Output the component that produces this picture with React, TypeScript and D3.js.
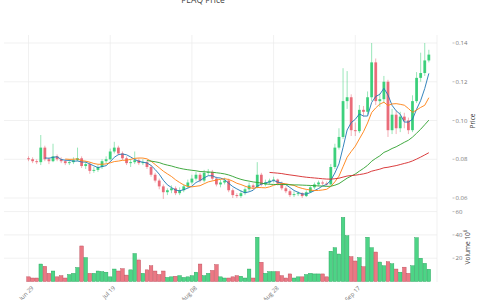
import React from 'react';
import * as d3 from 'd3';

// daily candles, Jun 29 .. Oct 05
const dates = d3.timeDay.range(new Date(2024, 5, 29), new Date(2024, 9, 6));

const opens = [
  0.0805, 0.0800, 0.0790, 0.0785, 0.0860, 0.0800, 0.0790, 0.0815, 0.0800, 0.0790,
  0.0780, 0.0785, 0.0795, 0.0805, 0.0765, 0.0775, 0.0740, 0.0745, 0.0760, 0.0790,
  0.0800, 0.0840, 0.0860, 0.0830, 0.0805, 0.0780, 0.0785, 0.0795, 0.0780, 0.0785,
  0.0760, 0.0720, 0.0690, 0.0660, 0.0630, 0.0640, 0.0650, 0.0625, 0.0640, 0.0660,
  0.0680, 0.0700, 0.0720, 0.0690, 0.0730, 0.0735, 0.0700, 0.0670, 0.0680, 0.0690,
  0.0640, 0.0615, 0.0610, 0.0625, 0.0645, 0.0665, 0.0655, 0.0720, 0.0670, 0.0680,
  0.0690, 0.0695, 0.0675, 0.0650, 0.0635, 0.0615, 0.0620, 0.0625, 0.0610, 0.0630,
  0.0655, 0.0670, 0.0680, 0.0675, 0.0670, 0.0760, 0.0860, 0.0915, 0.1100, 0.1120,
  0.0950, 0.0945, 0.1055, 0.1045, 0.1120, 0.1300, 0.1100, 0.1110, 0.1200, 0.0950,
  0.1030, 0.0960, 0.1020, 0.1000, 0.0950, 0.1100, 0.1220, 0.1245, 0.1310,
];
const closes = [
  0.0800, 0.0790, 0.0785, 0.0860, 0.0800, 0.0790, 0.0815, 0.0800, 0.0790, 0.0780,
  0.0785, 0.0795, 0.0805, 0.0765, 0.0775, 0.0740, 0.0745, 0.0760, 0.0790, 0.0800,
  0.0840, 0.0860, 0.0830, 0.0805, 0.0780, 0.0785, 0.0795, 0.0780, 0.0785, 0.0760,
  0.0720, 0.0690, 0.0660, 0.0630, 0.0640, 0.0650, 0.0625, 0.0640, 0.0660, 0.0680,
  0.0700, 0.0720, 0.0690, 0.0730, 0.0735, 0.0700, 0.0670, 0.0680, 0.0690, 0.0640,
  0.0615, 0.0610, 0.0625, 0.0645, 0.0665, 0.0655, 0.0720, 0.0670, 0.0680, 0.0690,
  0.0695, 0.0675, 0.0650, 0.0635, 0.0615, 0.0620, 0.0625, 0.0610, 0.0630, 0.0655,
  0.0670, 0.0680, 0.0675, 0.0670, 0.0760, 0.0860, 0.0915, 0.1100, 0.1120, 0.0950,
  0.0945, 0.1055, 0.1045, 0.1120, 0.1300, 0.1100, 0.1110, 0.1200, 0.0950, 0.1030,
  0.0960, 0.1020, 0.1000, 0.0950, 0.1100, 0.1220, 0.1245, 0.1310, 0.1340,
];
const highs = [
  0.0815, 0.0810, 0.0800, 0.0925, 0.0870, 0.0810, 0.0880, 0.0825, 0.0810, 0.0800,
  0.0800, 0.0810, 0.0860, 0.0815, 0.0790, 0.0785, 0.0760, 0.0770, 0.0800, 0.0815,
  0.0855, 0.0890, 0.0870, 0.0840, 0.0815, 0.0800, 0.0840, 0.0805, 0.0800, 0.0795,
  0.0770, 0.0730, 0.0700, 0.0670, 0.0650, 0.0665, 0.0660, 0.0655, 0.0670, 0.0695,
  0.0720, 0.0735, 0.0730, 0.0745, 0.0750, 0.0745, 0.0710, 0.0695, 0.0705, 0.0700,
  0.0650, 0.0625, 0.0640, 0.0655, 0.0680, 0.0675, 0.0785, 0.0730, 0.0695, 0.0700,
  0.0710, 0.0700, 0.0685, 0.0660, 0.0645, 0.0635, 0.0635, 0.0630, 0.0640, 0.0665,
  0.0680, 0.0690, 0.0690, 0.0685, 0.0775, 0.0880, 0.0960, 0.1270, 0.1255, 0.1135,
  0.0990, 0.1080, 0.1075, 0.1150, 0.1400, 0.1320, 0.1140, 0.1230, 0.1210, 0.1060,
  0.1050, 0.1045, 0.1040, 0.1015, 0.1130, 0.1250, 0.1350, 0.1400, 0.1365,
];
const lows = [
  0.0790, 0.0780, 0.0775, 0.0770, 0.0790, 0.0775, 0.0785, 0.0790, 0.0780, 0.0770,
  0.0770, 0.0775, 0.0790, 0.0755, 0.0750, 0.0725, 0.0730, 0.0735, 0.0750, 0.0780,
  0.0795, 0.0830, 0.0820, 0.0795, 0.0770, 0.0760, 0.0775, 0.0770, 0.0770, 0.0750,
  0.0710, 0.0680, 0.0645, 0.0595, 0.0615, 0.0625, 0.0615, 0.0615, 0.0630, 0.0650,
  0.0670, 0.0690, 0.0680, 0.0680, 0.0715, 0.0690, 0.0660, 0.0655, 0.0670, 0.0630,
  0.0600, 0.0600, 0.0600, 0.0615, 0.0635, 0.0645, 0.0650, 0.0660, 0.0660, 0.0670,
  0.0680, 0.0665, 0.0640, 0.0625, 0.0605, 0.0605, 0.0610, 0.0600, 0.0605, 0.0625,
  0.0645, 0.0660, 0.0665, 0.0660, 0.0665, 0.0750, 0.0850, 0.0905, 0.1060, 0.0920,
  0.0920, 0.0935, 0.1020, 0.1030, 0.1100, 0.1080, 0.1070, 0.1090, 0.0915, 0.0930,
  0.0930, 0.0940, 0.0960, 0.0930, 0.0940, 0.1090, 0.1200, 0.1230, 0.1300,
];
// volume, millions
const volumes = [
  4, 3, 3, 15, 13, 7, 9, 4, 5, 3,
  6, 7, 12, 30.5, 20.5, 7, 7, 9, 8.5, 8,
  4, 10.7, 9, 11, 5.5, 10, 24, 18.5, 7, 10,
  13.5, 9, 6, 9, 3.5, 4, 4.5, 5, 3.5, 4,
  5, 8, 15, 5, 7, 9.5, 14.5, 4, 3, 3,
  4, 5, 4.5, 3, 10.7, 3, 38, 16.5, 7, 8.5,
  8.5, 8.5, 5, 3, 6.5, 3, 4, 4, 6, 7,
  6.5, 6.5, 6.5, 4, 26, 29, 23.6, 55, 39.3, 21.3,
  17.6, 20.5, 12.7, 38, 29, 25.3, 16.7, 13.5, 17, 15.2,
  10.7, 8, 12.3, 7, 13.5, 37.6, 20, 15.6, 10.5,
];

const maWindows = [5, 10, 30, 60];
const maColors = ['#1f77b4', '#ff7f0e', '#2ca02c', '#d62728'];
const priceTicks = [0.06, 0.08, 0.1, 0.12, 0.14];
const volumeTicks = [20, 40, 60];
const dateTicks = [new Date(2024, 5, 29), new Date(2024, 6, 19), new Date(2024, 7, 8), new Date(2024, 7, 28), new Date(2024, 8, 17), new Date(2024, 9, 7)];
const labelledTicks = 5;

const UP = '#2ecc71';
const DOWN = '#e8606f';
const FONT = '"Open Sans", sans-serif';

export default function App() {
  const x = d3.scaleTime().domain([new Date(2024, 5, 23), new Date(2024, 9, 7)]).range([4, 437]);
  const yP = d3.scaleLinear().domain([0.06, 0.14]).range([198, 43]);
  const yV = d3.scaleLinear().domain([0, 60]).range([281.5, 211.6]);

  const candles = dates.map((d, i) => ({ d, o: opens[i], c: closes[i], h: highs[i], l: lows[i], v: volumes[i] }));

  // moving averages of the close
  const mas = maWindows.map((w) =>
    closes.map((_, i) => (i < w - 1 ? null : d3.mean(closes.slice(i - w + 1, i + 1)) as number))
  );
  const line = d3
    .line<number | null>()
    .defined((v) => v != null)
    .x((_, i) => x(dates[i]))
    .y((v) => yP(v as number));

  const bodyW = 2.8;
  const barW = 3.6;
  const fmt = d3.timeFormat('%b %d');

  return (
    <svg width={480} height={300} style={{ position: 'absolute', left: 0, top: 0, background: '#fff' }} fontFamily={FONT}>
      <text x={203} y={3} textAnchor="middle" fontSize={8.5} fill="#444">PEAQ Price</text>

      {/* grid */}
      {dateTicks.map((d, i) => (
        <line key={'vg' + i} x1={x(d)} x2={x(d)} y1={35} y2={282} stroke="#ebebeb" strokeWidth={0.7} />
      ))}
      {priceTicks.map((t) => (
        <line key={'pg' + t} x1={4} x2={437} y1={yP(t)} y2={yP(t)} stroke="#ebebeb" strokeWidth={0.7} />
      ))}
      {volumeTicks.map((t) => (
        <line key={'vgl' + t} x1={4} x2={437} y1={yV(t)} y2={yV(t)} stroke="#ebebeb" strokeWidth={0.7} />
      ))}

      {/* volume */}
      {candles.map((k, i) => {
        const up = k.c >= k.o;
        return (
          <rect key={'v' + i} x={x(k.d) - barW / 2} y={yV(k.v)} width={barW} height={yV(0) - yV(k.v)}
            fill={up ? UP : DOWN} fillOpacity={0.85} stroke={up ? '#1e9e55' : '#b84452'} strokeWidth={0.4} />
        );
      })}

      {/* candles */}
      {candles.map((k, i) => {
        const up = k.c >= k.o;
        const col = up ? UP : DOWN;
        const top = yP(Math.max(k.o, k.c));
        const bot = yP(Math.min(k.o, k.c));
        return (
          <g key={'c' + i}>
            <line x1={x(k.d)} x2={x(k.d)} y1={yP(k.h)} y2={yP(k.l)} stroke={col} strokeWidth={0.7} strokeOpacity={0.7} />
            <rect x={x(k.d) - bodyW / 2} y={top} width={bodyW} height={Math.max(0.8, bot - top)} fill={col} fillOpacity={0.9} />
          </g>
        );
      })}

      {/* moving averages */}
      {mas.map((m, j) => (
        <path key={'ma' + j} d={line(m) || ''} fill="none" stroke={maColors[j]} strokeWidth={0.9} />
      ))}

      {/* right axes */}
      {priceTicks.map((t) => (
        <g key={'pt' + t} transform={`translate(0,${yP(t)})`}>
          <line x1={452.5} x2={454.5} stroke="#999" strokeWidth={0.6} />
          <text x={455.5} dy="0.35em" fontSize={6} fill="#777">{d3.format('.2f')(t)}</text>
        </g>
      ))}
      {volumeTicks.map((t) => (
        <g key={'vt' + t} transform={`translate(0,${yV(t)})`}>
          <line x1={452.5} x2={454.5} stroke="#999" strokeWidth={0.6} />
          <text x={455.5} dy="0.35em" fontSize={6} fill="#777">{t}</text>
        </g>
      ))}
      <text transform="translate(475,121) rotate(-90)" textAnchor="middle" fontSize={6.5} fill="#444">Price</text>
      <text transform="translate(469.5,247) rotate(-90)" textAnchor="middle" fontSize={6.5} fill="#444">
        Volume 10<tspan fontSize={4.5} dy={-2.5}>6</tspan>
      </text>

      {/* date labels */}
      {dateTicks.slice(0, labelledTicks).map((d, i) => (
        <text key={'dt' + i} transform={`translate(${x(d) + 4},${287}) rotate(-45)`} textAnchor="end" dy="0.35em" fontSize={6} fill="#777">
          {fmt(d)}
        </text>
      ))}
    </svg>
  );
}
